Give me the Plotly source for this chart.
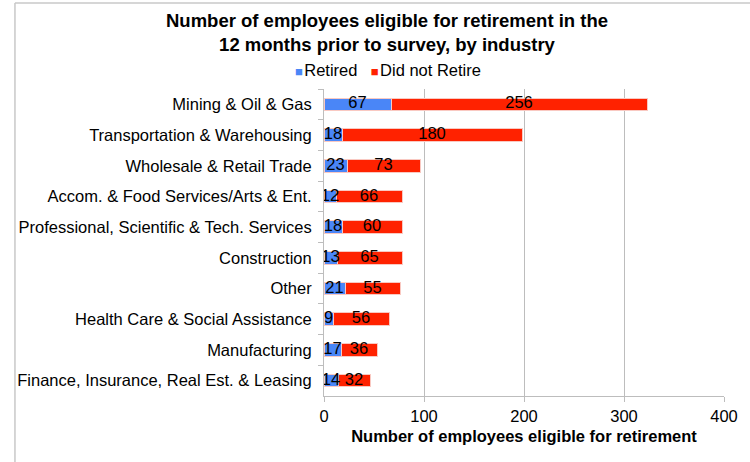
import plotly.graph_objects as go

industries = [
    "Mining & Oil & Gas",
    "Transportation & Warehousing",
    "Wholesale & Retail Trade",
    "Accom. & Food Services/Arts & Ent.",
    "Professional, Scientific & Tech. Services",
    "Construction",
    "Other",
    "Health Care & Social Assistance",
    "Manufacturing",
    "Finance, Insurance, Real Est. & Leasing",
]
retired = [67, 18, 23, 12, 18, 13, 21, 9, 17, 14]
did_not_retire = [256, 180, 73, 66, 60, 65, 55, 56, 36, 32]
x_ticks = [0, 100, 200, 300, 400]

BLUE = "#4a86f7"
RED = "#ff2200"
FONT = "Liberation Sans, Arial, Helvetica, sans-serif"
EDGE = dict(color="#f9c9c2", width=1)
FS = 16.5

fig = go.Figure()
fig.add_trace(go.Bar(
    y=industries, x=retired, name="Retired", orientation="h",
    marker=dict(color=BLUE, line=EDGE), hoverinfo="x+y", showlegend=False,
))
fig.add_trace(go.Bar(
    y=industries, x=did_not_retire, name="Did not Retire", orientation="h",
    marker=dict(color=RED, line=EDGE), hoverinfo="x+y", showlegend=False,
))

# value labels centred on each segment
fig.add_trace(go.Scatter(
    y=industries, x=[r / 2 for r in retired], mode="text",
    text=[str(r) for r in retired], textposition="middle center",
    textfont=dict(size=FS, color="black", family=FONT),
    showlegend=False, hoverinfo="skip",
))
fig.add_trace(go.Scatter(
    y=industries, x=[r + d / 2 for r, d in zip(retired, did_not_retire)], mode="text",
    text=[str(d) for d in did_not_retire], textposition="middle center",
    textfont=dict(size=FS, color="black", family=FONT),
    showlegend=False, hoverinfo="skip",
))

# compact legend line above the plot
legend_text = (
    f"<span style='color:{BLUE};font-size:13px'>■</span>"
    f"<span style='font-size:5px'>&nbsp;</span>Retired"
    f"<span style='font-size:12px'>&nbsp;&nbsp;&nbsp;&nbsp;</span>"
    f"<span style='color:{RED};font-size:13px'>■</span>"
    f"<span style='font-size:5px'>&nbsp;</span>Did not Retire"
)

fig.update_layout(
    width=750, height=462,
    margin=dict(l=324, r=17, t=89, b=66),
    paper_bgcolor="white", plot_bgcolor="white",
    barmode="stack", bargap=0.59,
    font=dict(family=FONT, size=FS, color="black"),
    showlegend=False,
    title=dict(
        text="<b>Number of employees eligible for retirement in the<br>12 months prior to survey, by industry</b>",
        x=387 / 750, xanchor="center", xref="container",
        y=1 - 27 / 462, yanchor="middle", yref="container",
        font=dict(size=18.5, family=FONT, color="black"),
    ),
    annotations=[
        dict(text=legend_text, xref="paper", yref="paper",
             x=(389 - 324) / 409, y=1 + (89 - 70) / 307,
             xanchor="center", yanchor="middle", showarrow=False,
             font=dict(size=FS, family=FONT, color="black")),
    ],
    xaxis=dict(
        range=[0, 400], tickvals=x_ticks, showgrid=True, gridcolor="#bdbdbd",
        gridwidth=1, showline=True, linecolor="#bdbdbd", linewidth=1,
        ticks="outside", ticklen=5, tickcolor="#bdbdbd", zeroline=False,
        tickfont=dict(size=FS),
        title=dict(text="<b>Number of employees eligible for retirement</b>",
                   font=dict(size=FS), standoff=6),
    ),
    yaxis=dict(
        categoryorder="array", categoryarray=industries, autorange="reversed",
        showline=True, linecolor="#bdbdbd", linewidth=1,
        ticks="outside", ticklen=5, tickcolor="#bdbdbd", tickson="boundaries",
        showgrid=False, tickfont=dict(size=FS), ticklabelstandoff=8,
    ),
    shapes=[
        dict(type="line", xref="paper", yref="paper",
             x0=(8 - 324) / 409, x1=1.2, y0=1 + 86 / 307, y1=1 + 86 / 307,
             line=dict(color="#c8c8c8", width=1.5)),
        dict(type="line", xref="paper", yref="paper",
             x0=(8 - 324) / 409, x1=(8 - 324) / 409, y0=-0.4, y1=1 + 86 / 307,
             line=dict(color="#c8c8c8", width=1.5)),
    ],
)

fig.write_html("out.html")
